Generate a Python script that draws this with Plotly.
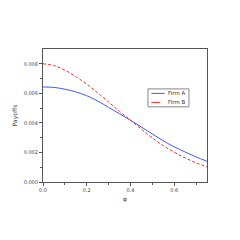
import plotly.graph_objects as go

phi = [0.0, 0.05, 0.1, 0.15, 0.2, 0.25, 0.3, 0.35, 0.4, 0.45, 0.5, 0.55, 0.6, 0.65, 0.7, 0.75]
firm_a = [0.00643, 0.00640, 0.00628, 0.00610, 0.00584, 0.00548, 0.00505, 0.00462, 0.00418, 0.00372, 0.00325, 0.00279, 0.00238, 0.00203, 0.00170, 0.00140]
firm_b = [0.00800, 0.00788, 0.00757, 0.00713, 0.00662, 0.00603, 0.00541, 0.00478, 0.00418, 0.00358, 0.00299, 0.00246, 0.00202, 0.00163, 0.00130, 0.00101]
series_names = ["Firm A", "Firm B"]
colors = ["#3b5bff", "#ff2a2a"]
dashes = ["solid", "3px,2px"]

fig = go.Figure()
for name, ys, c, d in zip(series_names, [firm_a, firm_b], colors, dashes):
    fig.add_trace(go.Scatter(x=phi, y=ys, mode="lines", name=name, showlegend=False,
                             line=dict(color=c, width=1, dash=d, shape="spline")))

axis_common = dict(showgrid=False, zeroline=False, showline=True, linecolor="#555555",
                   linewidth=1, mirror=True, ticks="outside", ticklen=3, tickcolor="#555555",
                   automargin=False,
                   tickfont=dict(size=5, family="DejaVu Sans", color="#444444"))
fig.update_xaxes(range=[0, 0.75], tickvals=[0, 0.2, 0.4, 0.6], ticktext=["0.0", "0.2", "0.4", "0.6"],
                 minor=dict(tickvals=[0.1, 0.3, 0.5, 0.7], ticks="outside", ticklen=2, tickcolor="#555555"),
                 title=dict(text="φ", font=dict(size=6, family="DejaVu Sans", color="#444444"), standoff=4), **axis_common)
fig.update_yaxes(range=[0, 0.009], tickvals=[0, 0.002, 0.004, 0.006, 0.008], tickformat=".3f",
                 minor=dict(tickvals=[0.001, 0.003, 0.005, 0.007], ticks="outside", ticklen=2, tickcolor="#555555"),
                 title=dict(text="Payoffs", font=dict(size=6, family="DejaVu Sans", color="#444444"), standoff=5), **axis_common)

# manual compact legend (paper coordinates)
lx0, lx1, ly0, ly1 = 0.64, 0.89, 0.565, 0.70
fig.add_shape(type="rect", xref="paper", yref="paper", x0=lx0, x1=lx1, y0=ly0, y1=ly1,
              line=dict(color="#888888", width=1), fillcolor="white", layer="above")
for i, (name, c, d) in enumerate(zip(series_names, colors, dashes)):
    yy = ly1 - (i + 0.5) * (ly1 - ly0) / 2
    fig.add_shape(type="line", xref="paper", yref="paper", x0=lx0 + 0.021, x1=lx0 + 0.102, y0=yy, y1=yy,
                  line=dict(color=c, width=1, dash="dash" if d != "solid" else "solid"), layer="above")
    fig.add_annotation(xref="paper", yref="paper", x=lx0 + 0.108, y=yy, text=name, showarrow=False,
                       xanchor="left", yanchor="middle",
                       font=dict(size=5.5, family="DejaVu Sans", color="#333333"))

fig.update_layout(width=232, height=232, margin=dict(l=35, r=33, t=41, b=58),
                  paper_bgcolor="white", plot_bgcolor="white", showlegend=False)
fig.write_html("out.html")
